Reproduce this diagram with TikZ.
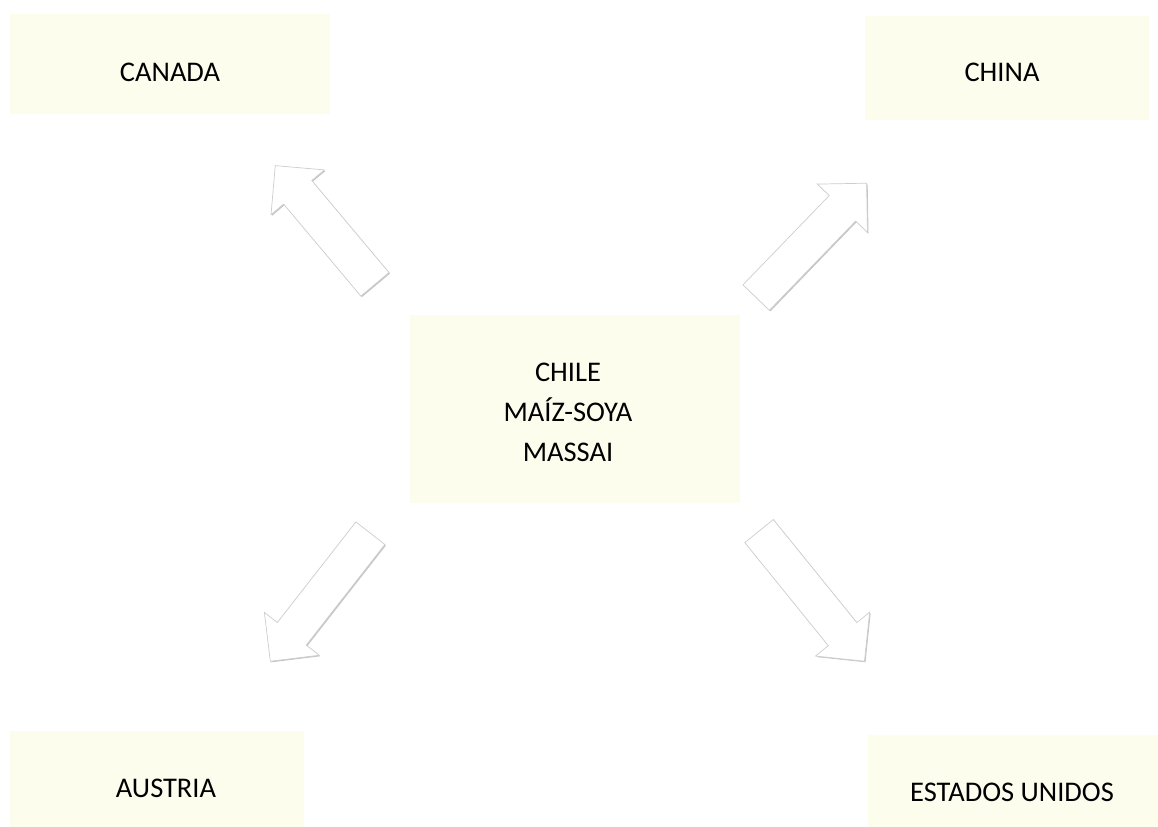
\documentclass[tikz,border=0pt]{standalone}
\usepackage{fontspec}
\setmainfont{Carlito}
\usetikzlibrary{shapes.arrows,shadows}
\definecolor{paleyellow}{RGB}{253,253,238}
\definecolor{arrowline}{RGB}{205,205,210}
\tikzset{
  country/.style={fill=paleyellow, draw=none, inner sep=0pt, font=\fontsize{16.2}{22.8}\selectfont, align=center},
  bigarrow/.style={single arrow, draw=arrowline, fill=white, thin, inner xsep=0pt, inner ysep=0.36cm,
    minimum height=#1, minimum width=1.38cm, single arrow head extend=0.33cm, single arrow tip angle=90,
    drop shadow={shadow xshift=0.6pt, shadow yshift=-0.6pt, fill=gray, opacity=0.45}}
}
\begin{document}
\begin{tikzpicture}[x=0.02cm, y=-0.02cm]
\useasboundingbox (0,0) rectangle (1158,827);
% boxes
\node[country, minimum width=6.4cm, minimum height=2cm] (canadabox) at (170,64) {};
\node at (170,72) (canada) {\fontsize{16.2}{22.8}\selectfont CANADA};
\node[country, minimum width=5.7cm, minimum height=2.1cm] (chinabox) at (1007,68) {};
\node at (1002,72) (china) {\fontsize{16.2}{22.8}\selectfont CHINA};
\node[country, minimum width=6.6cm, minimum height=3.76cm] (chilebox) at (575,409) {};
\node[align=center, font=\fontsize{16.2}{22.8}\selectfont] at (568,412) (chile) {CHILE\\MAÍZ-SOYA\\MASSAI};
\node[country, minimum width=5.9cm, minimum height=1.94cm] (austriabox) at (157,779) {};
\node at (166,788) (austria) {\fontsize{16.2}{22.8}\selectfont AUSTRIA};
\node[country, minimum width=5.8cm, minimum height=1.84cm] (eeuubox) at (1013,781) {};
\node at (1012,792) (eeuu) {\fontsize{16.2}{22.8}\selectfont ESTADOS UNIDOS};
% arrows out of the centre
\node[bigarrow=3.1cm, rotate=130] (tocanada) at (331,232) {};
\node[bigarrow=3.18cm, rotate=46] (tochina) at (805,247) {};
\node[bigarrow=3.25cm, rotate=232] (toaustria) at (326,590) {};
\node[bigarrow=3.35cm, rotate=-51] (toeeuu) at (806,589) {};
\end{tikzpicture}
\end{document}
